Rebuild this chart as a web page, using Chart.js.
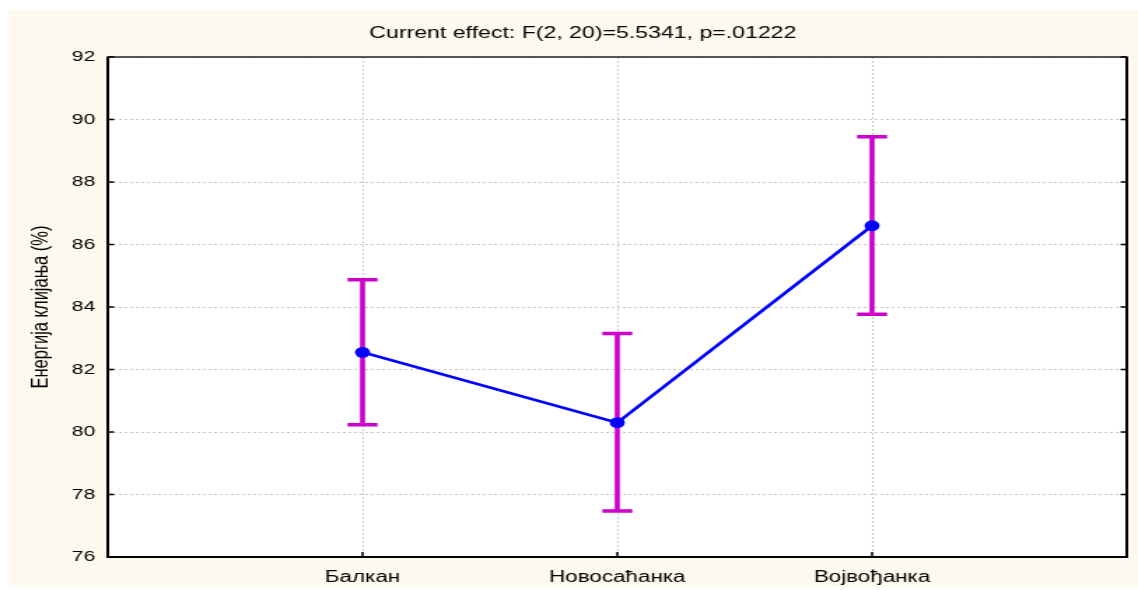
<!DOCTYPE html>
<html>
<head>
<meta charset="utf-8">
<script src="https://cdn.jsdelivr.net/npm/chart.js@4"></script>
<style>
    body { margin: 0; background: #ffffff; overflow: hidden; }
    #wrap { width: 813px; height: 590px; transform: scaleX(1.39975); transform-origin: 0 0; }
</style>
</head>
<body>
<div id="wrap"><canvas id="chart" width="813" height="590"></canvas></div>
<script>
const categories = ['Балкан', 'Новосаћанка', 'Војвођанка'];
const means = [82.55, 80.3, 86.6];
const upperLimits = [84.87, 83.15, 89.45];
const lowerLimits = [80.23, 77.47, 83.77];
const yTicks = [76, 78, 80, 82, 84, 86, 88, 90, 92];

const titleText = 'Current effect: F(2, 20)=5.5341, p=.01222';
const yTitleText = 'Енергија клијања (%)';

const fontFamily = '"Liberation Sans", Arial, sans-serif';

// background panel, plot frame and inner ticks
const framePlugin = {
    id: 'frame',
    beforeDraw(chart) {
        const ctx = chart.ctx;
        const area = chart.chartArea;
        ctx.save();
        ctx.fillStyle = '#fdf9ee';
        ctx.fillRect(6.4, 10, chart.width - 6.4, 577);
        ctx.fillStyle = '#ffffff';
        ctx.fillRect(area.left, area.top, area.right - area.left, area.bottom - area.top);
        ctx.fillStyle = '#000000';
        ctx.font = '16.5px ' + fontFamily;
        ctx.textAlign = 'center';
        ctx.textBaseline = 'middle';
        ctx.fillText(titleText, 416.4, 33);
        ctx.restore();
    },
    afterDraw(chart) {
        const ctx = chart.ctx;
        const area = chart.chartArea;
        const x = chart.scales.x;
        const y = chart.scales.y;
        ctx.save();
        ctx.strokeStyle = '#222222';
        ctx.lineWidth = 1.5;
        ctx.strokeRect(area.left, area.top, area.right - area.left, area.bottom - area.top);
        ctx.strokeStyle = '#000000';
        ctx.lineWidth = 2;
        ctx.beginPath();
        ctx.moveTo(area.left, area.top);
        ctx.lineTo(area.left, area.bottom);
        ctx.lineTo(area.right, area.bottom);
        ctx.lineTo(area.right, area.top);
        ctx.stroke();
        ctx.lineWidth = 1.5;
        ctx.beginPath();
        yTicks.forEach(v => {
            const py = y.getPixelForValue(v);
            ctx.moveTo(area.left, py);
            ctx.lineTo(area.left + 4.5, py);
            ctx.moveTo(area.right, py);
            ctx.lineTo(area.right - 4.5, py);
        });
        categories.forEach((c, i) => {
            const px = x.getPixelForValue(i + 1);
            ctx.moveTo(px, area.bottom);
            ctx.lineTo(px, area.bottom - 5);
        });
        ctx.stroke();
        ctx.restore();
    }
};

// confidence interval whiskers
const errorBarPlugin = {
    id: 'errorBars',
    beforeDatasetsDraw(chart) {
        const ctx = chart.ctx;
        const x = chart.scales.x;
        const y = chart.scales.y;
        ctx.save();
        ctx.strokeStyle = '#cc00cc';
        ctx.lineWidth = 3.6;
        ctx.beginPath();
        means.forEach((m, i) => {
            const px = x.getPixelForValue(i + 1);
            const top = y.getPixelForValue(upperLimits[i]);
            const bottom = y.getPixelForValue(lowerLimits[i]);
            ctx.moveTo(px, top);
            ctx.lineTo(px, bottom);
            ctx.moveTo(px - 10.7, top);
            ctx.lineTo(px + 10.7, top);
            ctx.moveTo(px - 10.7, bottom);
            ctx.lineTo(px + 10.7, bottom);
        });
        ctx.stroke();
        ctx.restore();
    }
};

const ctx = document.getElementById('chart').getContext('2d');
const chart = new Chart(ctx, {
    type: 'line',
    data: {
        datasets: [{
            data: means.map((m, i) => ({ x: i + 1, y: m })),
            borderColor: '#0000ff',
            backgroundColor: '#0000ff',
            borderWidth: 2.6,
            pointRadius: 5.4,
            pointBorderWidth: 0,
            tension: 0,
            fill: false
        }]
    },
    options: {
        responsive: false,
        animation: false,
        layout: { padding: { left: 0, right: 8, top: 57, bottom: 0 } },
        plugins: {
            legend: { display: false },
            tooltip: { enabled: false }
        },
        scales: {
            x: {
                type: 'linear',
                min: 0,
                max: 4,
                afterBuildTicks: scale => {
                    scale.ticks = categories.map((c, i) => ({ value: i + 1 }));
                },
                afterFit: scale => { scale.height = 33; },
                ticks: {
                    autoSkip: false,
                    maxRotation: 0,
                    padding: 11,
                    color: '#000000',
                    font: { family: fontFamily, size: 16 },
                    callback: value => categories[value - 1]
                },
                grid: { color: '#c8c8c8', lineWidth: 1, drawTicks: false },
                border: { display: false, dash: [2, 2] }
            },
            y: {
                min: 76,
                max: 92,
                afterBuildTicks: scale => {
                    scale.ticks = yTicks.map(v => ({ value: v }));
                },
                afterFit: scale => { scale.width = 77; },
                ticks: {
                    padding: 9,
                    color: '#000000',
                    font: { family: fontFamily, size: 15 }
                },
                grid: { color: '#c8c8c8', lineWidth: 1, drawTicks: false },
                border: { display: false, dash: [2, 2] },
                title: {
                    display: true,
                    text: yTitleText,
                    color: '#000000',
                    font: { family: fontFamily, size: 16.5 },
                    padding: { top: 20, bottom: 0 }
                }
            }
        }
    },
    plugins: [framePlugin, errorBarPlugin]
});
</script>
</body>
</html>
